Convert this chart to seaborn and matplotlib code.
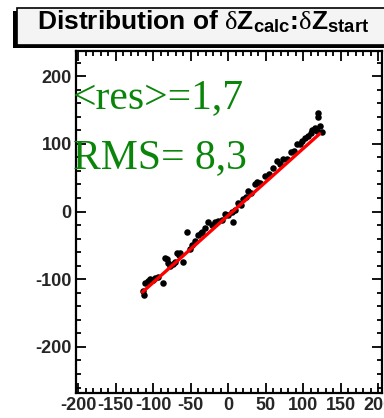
import numpy as np
import pandas as pd
import seaborn as sns
import matplotlib
matplotlib.use("Agg")
import matplotlib.pyplot as plt
from matplotlib.patches import Rectangle
from matplotlib.ticker import MultipleLocator

sns.set_style("ticks")
plt.rcParams["font.family"] = ["Liberation Sans", "DejaVu Sans"]
plt.rcParams["axes.unicode_minus"] = False
plt.rcParams["mathtext.fontset"] = "custom"
plt.rcParams["mathtext.rm"] = "Liberation Serif"
plt.rcParams["mathtext.it"] = "Liberation Serif"
plt.rcParams["mathtext.bf"] = "Liberation Sans:bold"

# Reconstructed (x) vs. calculated (y) z-offsets
dz_start = [-112, -113, -111, -107, -104, -100, -97, -93, -87, -84, -81, -77, -80,
            -73, -71, -68, -64, -66, -60, -55, -51, -48, -44, -40, -36, -35, -31,
            -27, -22, -17, -13, -8, -4, 0, 5, 7, 9, 13, 17, 20, 24, 27, 31, 36, 38,
            42, 49, 54, 60, 65, 69, 73, 78, 84, 88, 92, 96, 99, 103, 107, 110, 112,
            116, 118, 120, 120, 125, 122]
dz_calc = [-124, -118, -105, -103, -100, -101, -98, -96, -105, -68, -70, -81, -76,
           -78, -75, -61, -61, -64, -75, -30, -56, -50, -44, -34, -32, -30, -25,
           -15, -20, -16, -14, -12, -4, -5, 0, -15, 2, 13, 10, 18, 22, 30, 28, 40, 44,
           42, 52, 55, 64, 74, 70, 77, 78, 88, 90, 99, 100, 104, 108, 111, 116, 121,
           124, 119, 140, 146, 117, 126]

# Linear fit drawn over the populated range
fit_slope = 0.99
fit_intercept = -6.0
fit_range = [-114, 122]

x_ticks_major, x_ticks_minor = 50, 10
y_ticks_major, y_ticks_minor = 100, 20

df = pd.DataFrame({"dz_start": dz_start, "dz_calc": dz_calc})
fit_x = np.array(fit_range, dtype=float)
fit_df = pd.DataFrame({"x": fit_x, "y": fit_slope * fit_x + fit_intercept})

fig = plt.figure(figsize=(3.84, 4.18), dpi=100)
ax = fig.add_axes([76 / 384, 25 / 418, 306 / 384, 342 / 418])

sns.scatterplot(data=df, x="dz_start", y="dz_calc", ax=ax, color="black",
                s=22, linewidth=0, marker="o", zorder=3)
sns.lineplot(data=fit_df, x="x", y="y", ax=ax, color="#ff0000", lw=2.4, zorder=4)

ax.set_xlim(-202.7, 205)
ax.set_ylim(-268, 237)
ax.set_xlabel("")
ax.set_ylabel("")

ax.xaxis.set_major_locator(MultipleLocator(x_ticks_major))
ax.xaxis.set_minor_locator(MultipleLocator(x_ticks_minor))
ax.yaxis.set_major_locator(MultipleLocator(y_ticks_major))
ax.yaxis.set_minor_locator(MultipleLocator(y_ticks_minor))
ax.tick_params(which="both", direction="in", top=True, right=True,
               width=1.3, color="black")
ax.tick_params(which="major", length=7, labelsize=13, pad=3)
ax.tick_params(which="minor", length=3.6)
for lab in ax.get_xticklabels() + ax.get_yticklabels():
    lab.set_fontweight("bold")
for sp in ax.spines.values():
    sp.set_linewidth(1.6)
    sp.set_color("black")

# Fit summary
green = "#0a850a"
fig.text(73 / 384, 1 - 108 / 418, "<res>=1,7", family="Liberation Serif",
         size=30, color=green, va="baseline", ha="left")
fig.text(73 / 384, 1 - 168 / 418, "RMS= 8,3", family="Liberation Serif",
         size=30, color=green, va="baseline", ha="left")

# Title pave with shadow
H, W = 418, 384
shadow = Rectangle((13 / W, 1 - 48 / H), 1.2, 37 / H, transform=fig.transFigure,
                   facecolor="black", edgecolor="none", zorder=5)
box = Rectangle((17 / W, 1 - 45 / H), 1.2, 37 / H, transform=fig.transFigure,
                facecolor="#f4f4f4", edgecolor="black", lw=1.2, zorder=6)
fig.patches.extend([shadow, box])
fig.text(37 / W, 1 - 29 / H,
         r"Distribution of $\delta\mathbf{Z}_{\mathbf{calc}}$:"
         r"$\delta\mathbf{Z}_{\mathbf{start}}$",
         size=19, weight="bold", color="black", va="baseline", ha="left",
         zorder=7)

fig.savefig("out.png", dpi=100)
